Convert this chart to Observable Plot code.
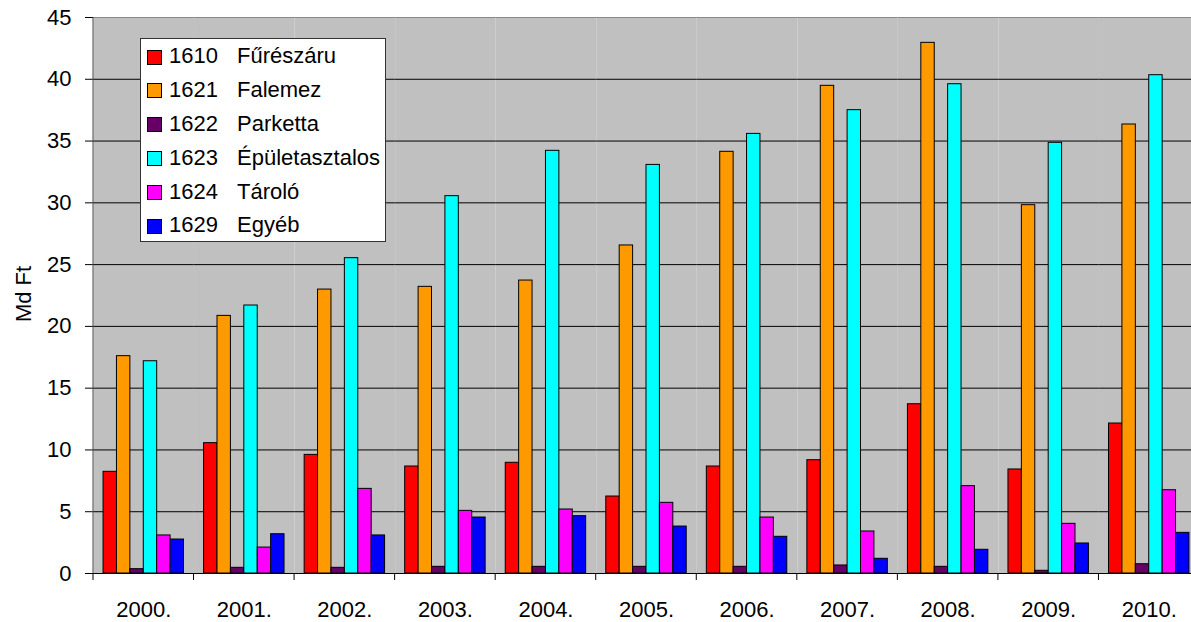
<!DOCTYPE html>
<html>
<head>
<meta charset="utf-8">
<script src="https://cdn.jsdelivr.net/npm/d3@7"></script>
<script src="https://cdn.jsdelivr.net/npm/@observablehq/plot@0.6"></script>
<style>
  html, body { margin: 0; padding: 0; background: #fff; overflow: hidden; }
  #wrap { position: relative; width: 1199px; height: 622px; font-family: "Liberation Sans", Arial, sans-serif; }
  #legend { position: absolute; left: 140px; top: 38px; width: 244px; height: 201px; background: #fff; border: 1px solid #333; box-sizing: content-box; padding-top: 1px; }
  .row { position: relative; height: 33.9px; font-size: 22px; color: #000; }
  .sw { position: absolute; left: 6px; top: 9.5px; width: 13px; height: 13px; border: 1px solid #000; }
  .code { position: absolute; left: 28px; top: 4px; line-height: 24px; }
  .name { position: absolute; left: 96px; top: 4px; line-height: 24px; }
</style>
</head>
<body>
<div id="wrap"></div>
<script>
const years = ["2000.", "2001.", "2002.", "2003.", "2004.", "2005.", "2006.", "2007.", "2008.", "2009.", "2010."];
const seriesCodes = ["1610", "1621", "1622", "1623", "1624", "1629"];
const seriesNames = ["Fűrészáru", "Falemez", "Parketta", "Épületasztalos", "Tároló", "Egyéb"];
const seriesColors = ["#FF0000", "#FF9900", "#660066", "#00FFFF", "#FF00FF", "#0000FF"];
const v1610 = [8.23, 10.55, 9.6, 8.66, 8.96, 6.23, 8.66, 9.17, 13.7, 8.42, 12.14];
const v1621 = [17.59, 20.85, 22.98, 23.2, 23.71, 26.55, 34.13, 39.47, 42.95, 29.81, 36.34];
const v1622 = [0.35, 0.46, 0.46, 0.54, 0.54, 0.54, 0.54, 0.65, 0.54, 0.22, 0.75];
const v1623 = [17.18, 21.69, 25.52, 30.54, 34.21, 33.07, 35.58, 37.5, 39.6, 34.86, 40.33];
const v1624 = [3.08, 2.1, 6.85, 5.07, 5.18, 5.72, 4.53, 3.4, 7.07, 4.02, 6.74];
const v1629 = [2.75, 3.18, 3.08, 4.53, 4.64, 3.8, 2.97, 1.19, 1.92, 2.43, 3.29];
const yTicks = [0, 5, 10, 15, 20, 25, 30, 35, 40, 45];
const yLabel = "Md Ft";

const allValues = [v1610, v1621, v1622, v1623, v1624, v1629];
const data = [];
years.forEach((yr, i) => {
  seriesCodes.forEach((code, s) => {
    data.push({year: yr, series: code, value: allValues[s][i]});
  });
});

const chart = Plot.plot({
  width: 1199,
  height: 622,
  marginLeft: 93,
  marginRight: 0,
  marginTop: 17,
  marginBottom: 49,
  style: {fontFamily: "'Liberation Sans', Arial, sans-serif", fontSize: "22px", color: "#000", background: "transparent"},
  fx: {domain: years, padding: 0, round: false},
  x: {domain: seriesCodes, paddingInner: 0, paddingOuter: 0.75, round: false, axis: null},
  y: {domain: [0, 45]},
  color: {domain: seriesCodes, range: seriesColors},
  marks: [
    Plot.frame({fill: "#C0C0C0", stroke: null}),
    Plot.gridY(yTicks.filter(t => t > 0 && t < 45), {stroke: "#000", strokeOpacity: 1, strokeWidth: 1}),
    Plot.ruleY([45], {stroke: "#888", strokeWidth: 1}),
    Plot.barY(data, {fx: "year", x: "series", y: "value", fill: "series", stroke: "#000", strokeWidth: 1}),
    Plot.ruleY([0], {stroke: "#000", strokeWidth: 1}),
    Plot.axisFx({anchor: "bottom", tickSize: 0, tickPadding: 28, fontSize: 22, label: null}),
    Plot.axisY(yTicks, {anchor: "left", tickSize: 8, tickPadding: 14, fontSize: 22, label: null, stroke: "#000"})
  ]
});

document.getElementById("wrap").appendChild(chart);

// Category boundary ticks, left axis line and y title, positioned through the library's scales
const svg = d3.select(chart.tagName.toLowerCase() === "svg" ? chart : chart.querySelector("svg"));
const fxs = chart.scale("fx");
const ys = chart.scale("y");
const y0 = ys.apply(0), y45 = ys.apply(45);
const g = svg.append("g");
const bounds = years.map(yr => fxs.apply(yr));
bounds.push(fxs.apply(years[years.length - 1]) + fxs.bandwidth);
g.selectAll("line.bt").data(bounds).join("line")
  .attr("x1", d => d).attr("x2", d => d)
  .attr("y1", y0).attr("y2", y0 + 7)
  .attr("stroke", "#000");
g.append("line")
  .attr("x1", bounds[0]).attr("x2", bounds[0])
  .attr("y1", y45).attr("y2", y0)
  .attr("stroke", "#444");
g.append("text")
  .attr("transform", `translate(${bounds[0] - 70},${(y0 + y45) / 2 - 1}) rotate(-90)`)
  .attr("text-anchor", "middle")
  .attr("dy", "0.35em")
  .attr("font-size", 22)
  .attr("fill", "#000")
  .text(yLabel);

// Legend
const legend = document.createElement("div");
legend.id = "legend";
seriesCodes.forEach((code, i) => {
  const row = document.createElement("div");
  row.className = "row";
  row.innerHTML = `<span class="sw" style="background:${seriesColors[i]}"></span><span class="code">${code}</span><span class="name">${seriesNames[i]}</span>`;
  legend.appendChild(row);
});
document.getElementById("wrap").appendChild(legend);
</script>
</body>
</html>
